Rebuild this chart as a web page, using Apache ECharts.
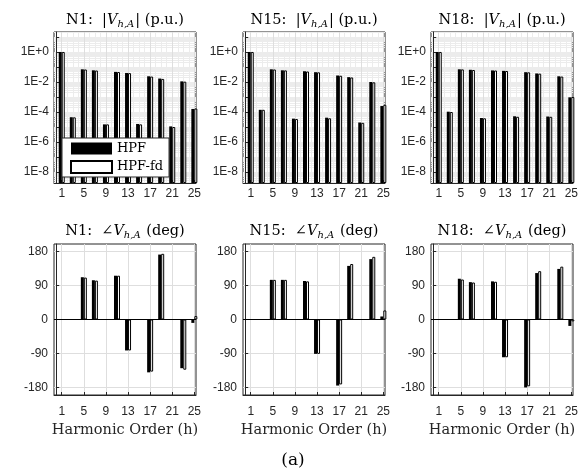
<!DOCTYPE html>
<html>
<head>
<meta charset="utf-8">
<script src="https://cdn.jsdelivr.net/npm/echarts@6/dist/echarts.min.js"></script>
<style>
  html, body { margin: 0; padding: 0; background: #fff; }
  #chart { width: 587px; height: 476px; }
</style>
</head>
<body>
<div id="chart"></div>
<script>
// odd harmonic orders
const harmonics = [1, 3, 5, 7, 9, 11, 13, 15, 17, 19, 21, 23, 25];
const xTickLabels = [1, 5, 9, 13, 17, 21, 25];
const magTickLabels = [1e-8, 1e-6, 1e-4, 1e-2, 1];
const magDecades = [1e-8, 1e-7, 1e-6, 1e-5, 1e-4, 1e-3, 1e-2, 1e-1, 1, 10];
const angTickLabels = [-180, -90, 0, 90, 180];
const nodes = ['N1', 'N15', 'N18'];

// |V_h,A| (p.u.)
const magN1Hpf  = [1.0, 4.5e-5, 7.0e-2, 6.0e-2, 1.5e-5, 4.7e-2, 4.0e-2, 1.6e-5, 2.4e-2, 1.7e-2, 1.1e-5, 1.1e-2, 1.6e-4];
const magN1Fd   = [1.0, 4.4e-5, 6.8e-2, 5.8e-2, 1.5e-5, 4.6e-2, 3.9e-2, 1.5e-5, 2.3e-2, 1.6e-2, 1.0e-5, 1.05e-2, 1.7e-4];
const magN15Hpf = [1.0, 1.4e-4, 7.0e-2, 6.0e-2, 3.6e-5, 5.2e-2, 4.5e-2, 4.2e-5, 2.7e-2, 2.1e-2, 2.0e-5, 1.0e-2, 2.5e-4];
const magN15Fd  = [1.0, 1.4e-4, 6.8e-2, 5.9e-2, 3.4e-5, 5.0e-2, 4.4e-2, 3.8e-5, 2.6e-2, 2.0e-2, 1.9e-5, 9.5e-3, 3.0e-4];
const magN18Hpf = [1.0, 1.05e-4, 7.0e-2, 6.5e-2, 4.0e-5, 5.9e-2, 5.5e-2, 5.2e-5, 4.5e-2, 3.7e-2, 5.0e-5, 2.4e-2, 9.5e-4];
const magN18Fd  = [1.0, 1.0e-4, 6.9e-2, 6.3e-2, 3.8e-5, 5.8e-2, 5.4e-2, 4.8e-5, 4.4e-2, 3.6e-2, 4.8e-5, 2.3e-2, 1.0e-3];

// angle V_h,A (deg)
const angN1Hpf  = [0, 0, 112, 104, 0, 116, -82, 0, -140, 172, 0, -129, -9];
const angN1Fd   = [0, 0, 111, 103, 0, 116, -82, 0, -138, 174, 0, -133, 9];
const angN15Hpf = [0, 0, 105, 105, 0, 102, -91, 0, -175, 142, 0, 160, 8];
const angN15Fd  = [0, 0, 105, 105, 0, 101, -91, 0, -172, 147, 0, 166, 24];
const angN18Hpf = [0, 0, 108, 99, 0, 101, -100, 0, -180, 123, 0, 134, -17];
const angN18Fd  = [0, 0, 106, 98, 0, 100, -100, 0, -177, 128, 0, 140, -5];

const magHpf = [magN1Hpf, magN15Hpf, magN18Hpf];
const magFd = [magN1Fd, magN15Fd, magN18Fd];
const angHpf = [angN1Hpf, angN15Hpf, angN18Hpf];
const angFd = [angN1Fd, angN15Fd, angN18Fd];

const serif = "'DejaVu Serif', 'Liberation Serif', serif";
const sans = "'Liberation Sans', Arial, sans-serif";
const axisColor = '#262626';
const gridColor = '#dedede';
const minorColor = '#ececec';
const gridLefts = [54, 243, 431];
const xMin = -0.4, xMax = 25.3;
const expMin = -8.73, expMax = 1.33;
const magMin = Math.pow(10, expMin);
const magMax = Math.pow(10, expMax);

// minor grid positions: every harmonic order, and 2..9 x 10^e (as exponents)
const xMinorGrid = [];
for (let h = 0; h <= 25; h++) {
  if (xTickLabels.indexOf(h) < 0) xMinorGrid.push(h);
}
const expMinorGrid = [];
for (let e = -9; e <= 1; e++) {
  for (let k = 2; k <= 9; k++) {
    const p = e + Math.log10(k);
    if (p > expMin && p < expMax) expMinorGrid.push(p);
  }
}

const chart = echarts.init(document.getElementById('chart'));

const grids = [];
const xAxes = [];
const yAxes = [];
const series = [];
const graphics = [];

function bar(name, idx, vals, filled) {
  return {
    name: name,
    type: 'bar',
    xAxisIndex: idx,
    yAxisIndex: idx,
    barWidth: 3,
    barGap: '0%',
    silent: true,
    animation: false,
    data: harmonics.map((h, k) => [h, vals[k]]),
    itemStyle: filled ? { color: '#000' } : { color: '#fff', borderColor: '#000', borderWidth: 1 }
  };
}

function xAxisCfg(idx, bottomRow) {
  return {
    type: 'value', gridIndex: idx, min: xMin, max: xMax, position: 'bottom',
    axisLine: { show: true, onZero: false, lineStyle: { color: axisColor } },
    axisTick: { show: true, inside: true, length: 3, customValues: xTickLabels, lineStyle: { color: axisColor } },
    axisLabel: { customValues: xTickLabels, margin: bottomRow ? 11 : 5, color: axisColor, fontFamily: sans, fontSize: 12 },
    splitLine: { show: true, lineStyle: { color: gridColor } },
    name: bottomRow ? 'Harmonic Order (h)' : '',
    nameLocation: 'middle',
    nameGap: 28,
    nameTextStyle: { fontFamily: serif, fontSize: 14.5, color: axisColor }
  };
}

// hidden axis that only draws the minor grid
function minorAxis(gridIndex, type, min, max, values) {
  return {
    type: 'value', gridIndex: gridIndex, min: min, max: max,
    position: type === 'x' ? 'top' : 'right',
    axisLine: { show: false },
    axisLabel: { show: false },
    axisTick: { show: false, customValues: values },
    splitLine: { show: true, lineStyle: { color: minorColor, width: 1 } }
  };
}

const expLabel = v => {
  const e = Math.round(Math.log10(v));
  return '1E' + (e >= 0 ? '+' : '') + e;
};

const richStyle = {
  t: { fontFamily: serif, fontSize: 14.5, fill: '#000' },
  v: { fontFamily: serif, fontSize: 14.5, fontStyle: 'italic', fill: '#000' },
  s: { fontFamily: serif, fontSize: 10, fontStyle: 'italic', fill: '#000', padding: [8, 1, 0, 0] }
};

function titleGraphic(text, x, y) {
  return {
    type: 'text', x: x, y: y, silent: true, z: 10,
    style: { text: text, rich: richStyle, textAlign: 'center', textVerticalAlign: 'middle', fontFamily: serif, fontSize: 14.5, fill: '#000' }
  };
}

for (let i = 0; i < 3; i++) {
  const cx = gridLefts[i] + 71;
  // magnitude (top row)
  grids.push({ left: gridLefts[i], top: 32, width: 142, height: 151, show: true, borderColor: axisColor, borderWidth: 1 });
  xAxes.push(xAxisCfg(i, false));
  yAxes.push({
    type: 'log', gridIndex: i, logBase: 10, min: magMin, max: magMax, startValue: magMin, position: 'left',
    axisLine: { show: true, lineStyle: { color: axisColor } },
    axisTick: { show: true, inside: true, length: 3, customValues: magDecades, lineStyle: { color: axisColor } },
    axisLabel: { customValues: magTickLabels, formatter: expLabel, margin: 5, color: axisColor, fontFamily: sans, fontSize: 12 },
    splitLine: { show: true, lineStyle: { color: gridColor } }
  });
  series.push(bar('HPF', i, magHpf[i], true));
  series.push(bar('HPF-fd', i, magFd[i], false));
  graphics.push(titleGraphic('{t|' + nodes[i] + ':  |}{v|V}{s|h,A}{t|| (p.u.)}', cx, 20));
}

for (let i = 0; i < 3; i++) {
  const idx = i + 3;
  const cx = gridLefts[i] + 71;
  // angle (bottom row)
  grids.push({ left: gridLefts[i], top: 244, width: 142, height: 151, show: true, borderColor: axisColor, borderWidth: 1 });
  xAxes.push(xAxisCfg(idx, true));
  yAxes.push({
    type: 'value', gridIndex: idx, min: -200, max: 200, position: 'left',
    axisLine: { show: true, lineStyle: { color: axisColor } },
    axisTick: { show: true, inside: true, length: 3, customValues: angTickLabels, lineStyle: { color: axisColor } },
    axisLabel: { customValues: angTickLabels, margin: 6, color: axisColor, fontFamily: sans, fontSize: 12 },
    splitLine: { show: true, lineStyle: { color: gridColor } }
  });
  series.push(bar('HPF', idx, angHpf[i], true));
  const fd = bar('HPF-fd', idx, angFd[i], false);
  fd.markLine = {
    silent: true, symbol: 'none', animation: false,
    label: { show: false },
    lineStyle: { color: '#000', width: 1, type: 'solid' },
    data: [{ yAxis: 0 }]
  };
  series.push(fd);
  graphics.push(titleGraphic('{t|' + nodes[i] + ':  \u2220}{v|V}{s|h,A}{t| (deg)}', cx, 231));
}

// minor grid for the magnitude plots
for (let i = 0; i < 3; i++) {
  xAxes.push(minorAxis(i, 'x', xMin, xMax, xMinorGrid));
  yAxes.push(minorAxis(i, 'y', expMin, expMax, expMinorGrid));
}

graphics.push({
  type: 'text', x: 293, y: 461, silent: true,
  style: { text: '(a)', textAlign: 'center', textVerticalAlign: 'middle', fontFamily: serif, fontSize: 17, fill: '#000' }
});

const option = {
  backgroundColor: '#fff',
  animation: false,
  grid: grids,
  xAxis: xAxes,
  yAxis: yAxes,
  legend: {
    data: ['HPF', 'HPF-fd'],
    orient: 'vertical',
    left: 62, top: 138,
    itemWidth: 41, itemHeight: 12, itemGap: 5,
    padding: [4, 6, 3, 8],
    icon: 'rect',
    selectedMode: false,
    backgroundColor: '#fff',
    borderColor: axisColor, borderWidth: 1, borderRadius: 0,
    textStyle: { fontFamily: serif, fontSize: 13, color: '#000' }
  },
  graphic: graphics,
  series: series
};

chart.setOption(option);
</script>
</body>
</html>
